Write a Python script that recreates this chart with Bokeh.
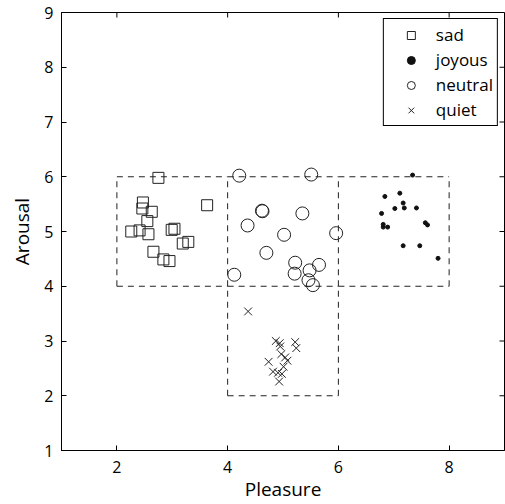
import math
from bokeh.plotting import figure
from bokeh.models import FixedTicker, Range1d
from bokeh.embed import file_html
from bokeh.resources import INLINE

# --- data ---
sad_x = [2.75, 3.63, 2.47, 2.46, 2.63, 2.55, 2.26, 2.41, 2.57, 2.99, 3.04, 3.19, 3.29, 2.66, 2.84, 2.95]
sad_y = [5.98, 5.48, 5.53, 5.42, 5.36, 5.19, 5.00, 5.02, 4.95, 5.03, 5.05, 4.78, 4.81, 4.63, 4.49, 4.46]

joy_x = [7.34, 6.84, 7.11, 7.17, 7.02, 7.19, 7.41, 6.78, 6.81, 6.81, 6.89, 7.57, 7.61, 7.17, 7.47, 7.80]
joy_y = [6.03, 5.64, 5.70, 5.52, 5.42, 5.43, 5.43, 5.33, 5.13, 5.08, 5.08, 5.16, 5.12, 4.74, 4.74, 4.51]

neu_x = [4.21, 5.51, 4.62, 4.63, 5.35, 4.36, 5.02, 5.96, 4.70, 5.22, 5.65, 5.21, 5.48, 4.12, 5.46, 5.54]
neu_y = [6.02, 6.04, 5.38, 5.37, 5.33, 5.11, 4.94, 4.97, 4.61, 4.43, 4.39, 4.23, 4.29, 4.21, 4.11, 4.02]

qui_x = [4.37, 4.87, 4.94, 5.22, 5.24, 4.97, 5.04, 4.74, 5.08, 4.82, 4.91, 4.98, 4.93, 5.01, 4.95]
qui_y = [3.54, 3.00, 2.96, 2.98, 2.87, 2.76, 2.70, 2.62, 2.64, 2.44, 2.42, 2.40, 2.26, 2.53, 2.90]

box_left = [2, 4, 6, 4]
box_right = [4, 6, 8, 6]
box_bottom = [4, 4, 4, 2]
box_top = [6, 6, 6, 4]

x_ticks = [2, 4, 6, 8]
y_ticks = [1, 2, 3, 4, 5, 6, 7, 8, 9]
x_lim = (1, 9)
y_lim = (1, 9)

FONT = "Open Sans"

p = figure(width=505, height=504, output_backend="svg", toolbar_location=None,
           x_range=Range1d(*x_lim), y_range=Range1d(*y_lim),
           min_border_left=61, min_border_right=1, min_border_top=12, min_border_bottom=54)
p.grid.visible = False
p.outline_line_color = "black"
p.outline_line_width = 1
p.outline_line_alpha = 1

for ax in (p.xaxis[0], p.yaxis[0]):
    ax.major_tick_in = 5
    ax.major_tick_out = 0
    ax.minor_tick_line_color = None
    ax.major_label_text_font = FONT
    ax.major_label_text_font_size = "16px"
    ax.major_label_text_color = "black"
    ax.axis_label_text_font = FONT
    ax.axis_label_text_font_size = "19px"
    ax.axis_label_text_font_style = "normal"
    ax.axis_label_text_color = "black"
    ax.axis_line_color = "black"
    ax.major_tick_line_color = "black"
p.xaxis[0].ticker = FixedTicker(ticks=x_ticks)
p.yaxis[0].ticker = FixedTicker(ticks=y_ticks)
p.xaxis[0].axis_label = "Pleasure"
p.yaxis[0].axis_label = "Arousal"
p.xaxis[0].axis_label_standoff = 0
p.yaxis[0].axis_label_standoff = 6
p.xaxis[0].major_label_standoff = 10
p.yaxis[0].major_label_standoff = 8

# mirrored inward ticks on the top and right edges of the box
p.scatter(x_ticks, [y_lim[1]] * len(x_ticks), marker="dash", size=10, angle=math.pi / 2,
          line_color="black", line_width=1)
p.scatter([x_lim[1]] * len(y_ticks), y_ticks, marker="dash", size=10,
          line_color="black", line_width=1)

# dashed region boxes, shared edges drawn once so dashes stay visible
edges = []
for l, r, b, t in zip(box_left, box_right, box_bottom, box_top):
    for e in ((l, b, r, b), (l, t, r, t), (l, b, l, t), (r, b, r, t)):
        if e not in edges:
            edges.append(e)
p.segment(x0=[e[0] for e in edges], y0=[e[1] for e in edges],
          x1=[e[2] for e in edges], y1=[e[3] for e in edges],
          line_color="#222222", line_dash="6 5", line_width=1)

p.scatter(sad_x, sad_y, marker="square", size=11, fill_color=None, line_color="#222222",
          line_width=1, legend_label="sad")
p.scatter(joy_x, joy_y, marker="circle", size=4, fill_color="#111111", line_color="#111111",
          legend_label="joyous")
p.scatter(neu_x, neu_y, marker="circle", size=13, fill_color=None, line_color="#222222",
          line_width=1, legend_label="neutral")
p.scatter(qui_x, qui_y, marker="x", size=11, line_color="#222222", line_width=1,
          legend_label="quiet")

lg = p.legend[0]
lg.location = "top_right"
lg.border_line_color = "black"
lg.border_line_width = 1
lg.border_line_alpha = 1
lg.background_fill_alpha = 1
lg.label_text_font = FONT
lg.label_text_font_size = "17px"
lg.label_text_color = "black"
lg.margin = 6
lg.padding = 4
lg.spacing = 2
lg.label_height = 20
lg.glyph_height = 20
lg.glyph_width = 46
lg.label_standoff = 2

open("out.html", "w").write(file_html(p, INLINE))
